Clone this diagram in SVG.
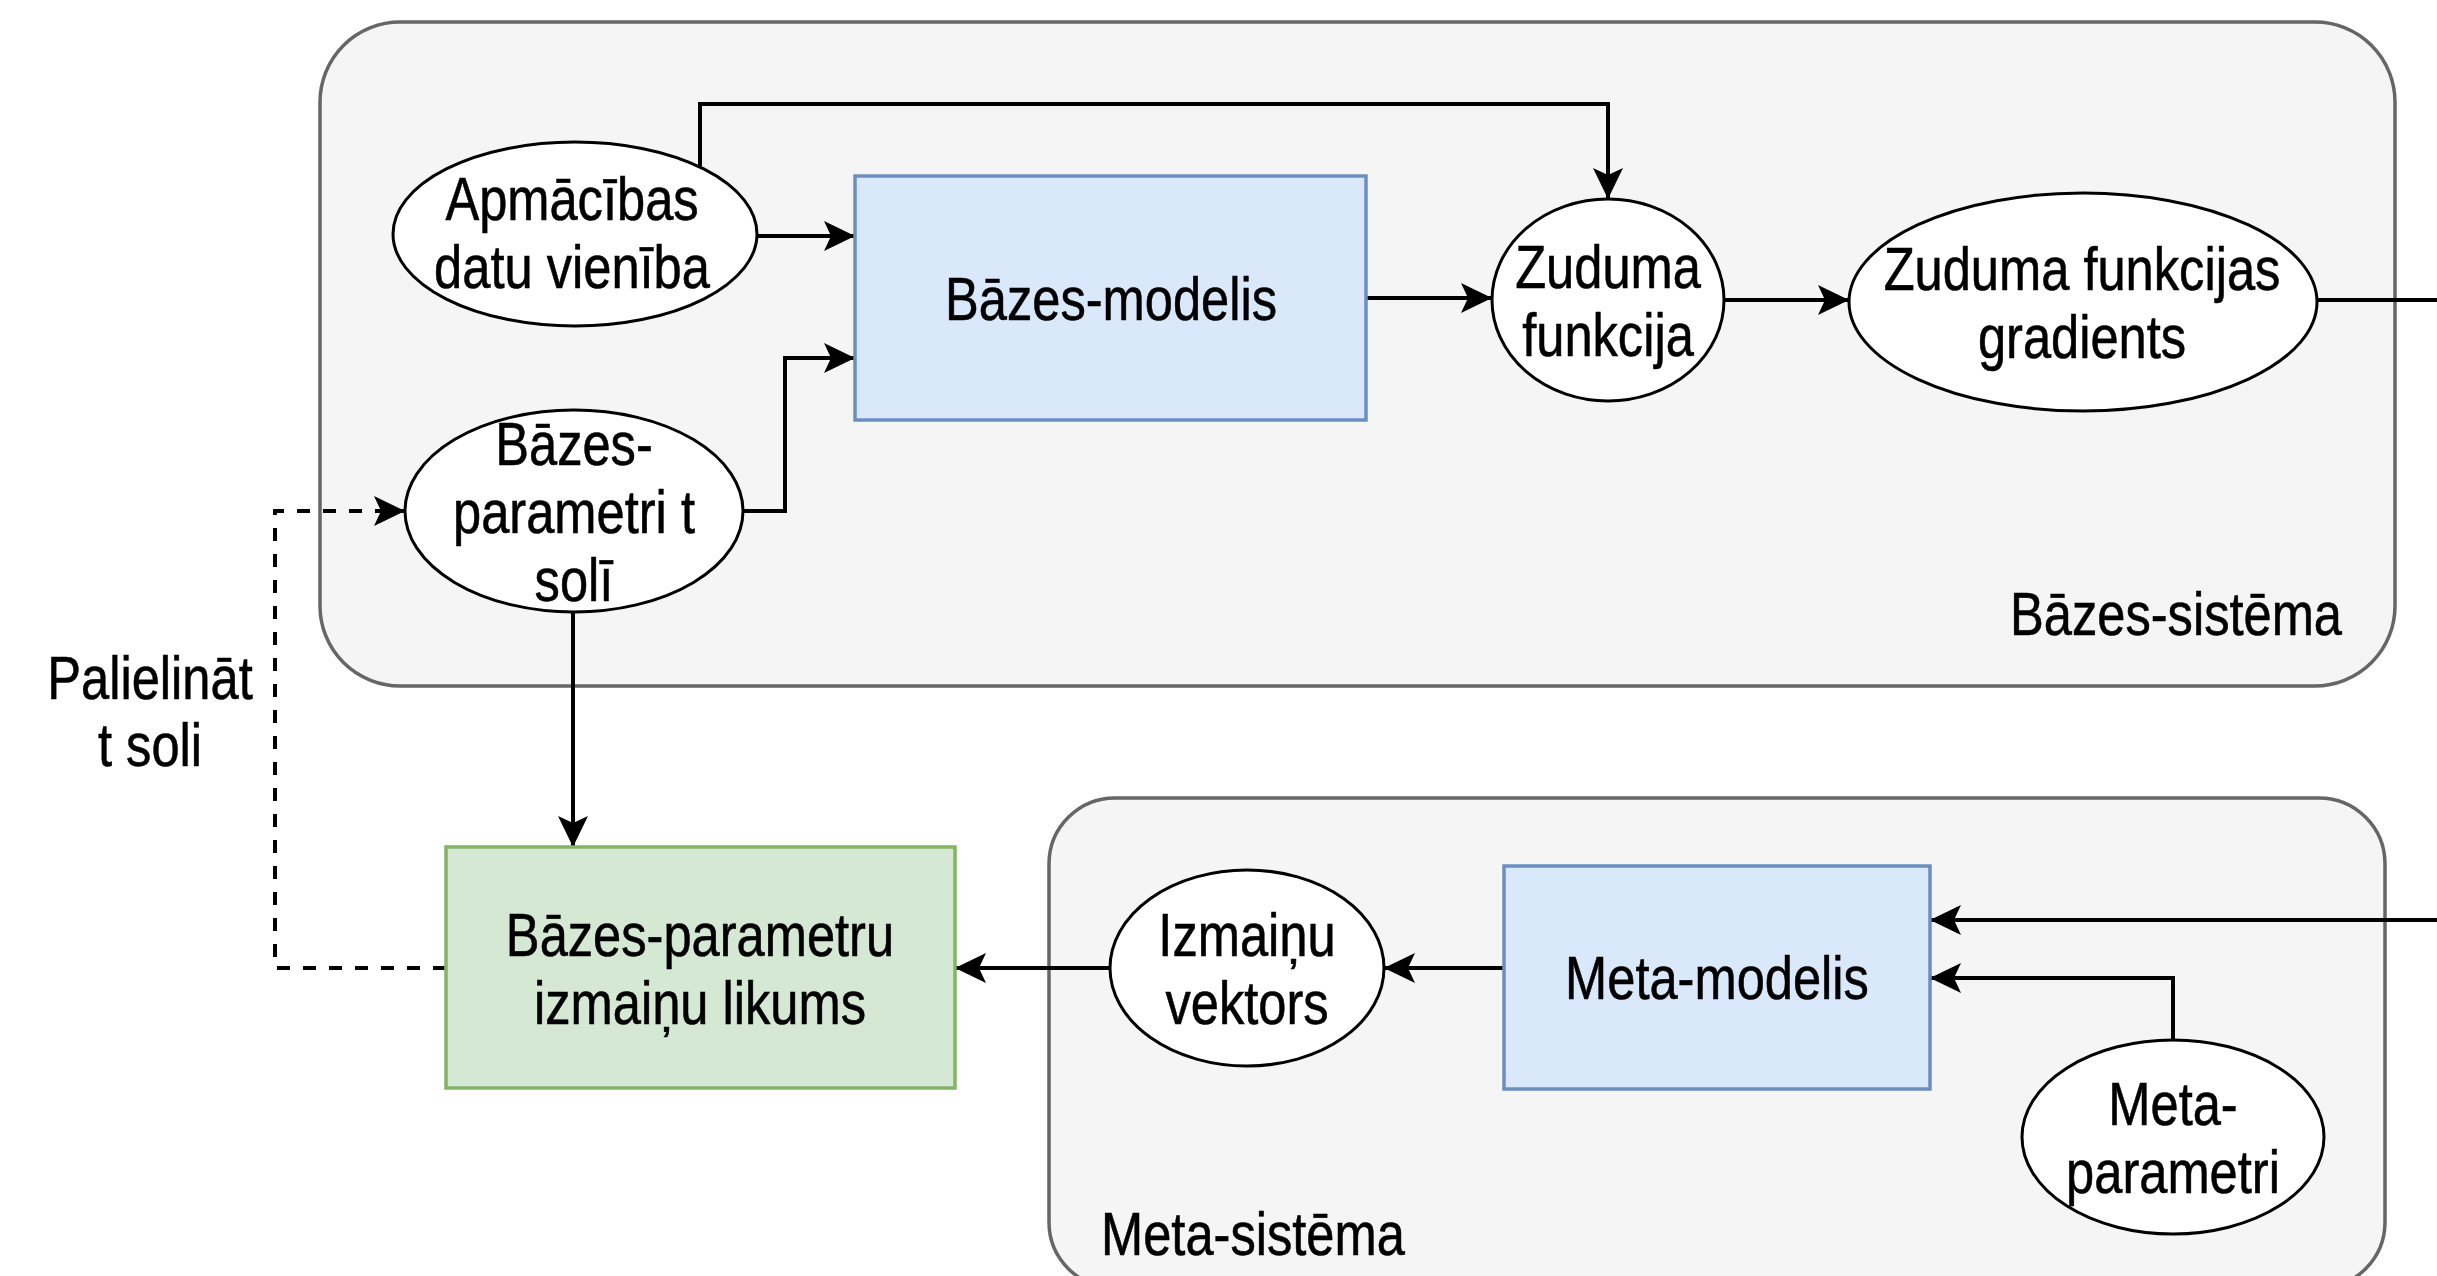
<svg xmlns="http://www.w3.org/2000/svg" width="2437" height="1276" viewBox="0 0 2437 1276">
<defs>
<style>
.container{fill:#f5f5f5;stroke:#666666;stroke-width:3.5}
.ell{fill:#ffffff;stroke:#000000;stroke-width:3}
.blue{fill:#dae8fc;stroke:#6c8ebf;stroke-width:3.5}
.green{fill:#d5e8d4;stroke:#82b366;stroke-width:3.5}
.t{font-family:"Liberation Sans",Arial,sans-serif;font-size:61px;fill:#000000;stroke:#000000;stroke-width:0.6;text-anchor:middle}
.conn{fill:none;stroke:#000000;stroke-width:4}
.dash{stroke-dasharray:13 13}
</style>
<marker id="arr" markerUnits="userSpaceOnUse" viewBox="-34 -17 36 34" refX="0" refY="0" markerWidth="36" markerHeight="34" orient="auto">
<path d="M0,0 L-31,-15 L-24,0 L-31,15 Z" fill="#000000"/>
</marker>
</defs>
<rect width="2437" height="1276" fill="#ffffff"/>

<g id="base-system">
<rect class="container" x="320" y="22" width="2075" height="664" rx="80" ry="80"/>
<text class="t" style="text-anchor:end" transform="translate(2342,635) scale(0.83,1)">Bāzes-sistēma</text>
</g>

<g id="meta-system">
<rect class="container" x="1049" y="798" width="1336" height="490" rx="66" ry="66"/>
<text class="t" style="text-anchor:start" transform="translate(1101,1255) scale(0.83,1)">Meta-sistēma</text>
</g>

<g id="connectors">
<path class="conn" d="M758,236 H855" marker-end="url(#arr)"/>
<path class="conn" d="M743,511 H785 V358 H855" marker-end="url(#arr)"/>
<path class="conn" d="M700,166 V104 H1608 V199" marker-end="url(#arr)"/>
<path class="conn" d="M1366,298 H1492" marker-end="url(#arr)"/>
<path class="conn" d="M1724,300 H1849" marker-end="url(#arr)"/>
<path class="conn" d="M2317,300 H2470 V920 H1930" marker-end="url(#arr)"/>
<path class="conn" d="M2173,1040 V978 H1930" marker-end="url(#arr)"/>
<path class="conn" d="M1504,968 H1384" marker-end="url(#arr)"/>
<path class="conn" d="M1110,968 H955" marker-end="url(#arr)"/>
<path class="conn" d="M573,612 V847" marker-end="url(#arr)"/>
<path class="conn dash" d="M446,968 H275 V511 H405" marker-end="url(#arr)"/>
<text class="t" transform="translate(150,699) scale(0.83,1)"><tspan x="0">Palielināt</tspan><tspan x="0" dy="67">t soli</tspan></text>
</g>

<g id="apmacibas">
<ellipse class="ell" cx="575" cy="234" rx="182" ry="92"/>
<text class="t" transform="translate(572,220) scale(0.83,1)"><tspan x="0">Apmācības</tspan><tspan x="0" dy="68">datu vienība</tspan></text>
</g>

<g id="bazes-modelis">
<rect class="blue" x="855" y="176" width="511" height="244"/>
<text class="t" transform="translate(1111,320) scale(0.83,1)">Bāzes-modelis</text>
</g>

<g id="zuduma-funkcija">
<ellipse class="ell" cx="1608" cy="300" rx="116" ry="101"/>
<text class="t" transform="translate(1608,288) scale(0.83,1)"><tspan x="0">Zuduma</tspan><tspan x="0" dy="68">funkcija</tspan></text>
</g>

<g id="gradients">
<ellipse class="ell" cx="2083" cy="302" rx="234" ry="109"/>
<text class="t" transform="translate(2082,290) scale(0.83,1)"><tspan x="0">Zuduma funkcijas</tspan><tspan x="0" dy="68">gradients</tspan></text>
</g>

<g id="bazes-parametri">
<ellipse class="ell" cx="574" cy="511" rx="169" ry="101"/>
<text class="t" transform="translate(574,465) scale(0.83,1)"><tspan x="0">Bāzes-</tspan><tspan x="0" dy="68">parametri t</tspan><tspan x="0" dy="68">solī</tspan></text>
</g>

<g id="izmainu-likums">
<rect class="green" x="446" y="847" width="509" height="241"/>
<text class="t" transform="translate(700,956) scale(0.83,1)"><tspan x="0">Bāzes-parametru</tspan><tspan x="0" dy="68">izmaiņu likums</tspan></text>
</g>

<g id="izmainu-vektors">
<ellipse class="ell" cx="1247" cy="968" rx="137" ry="98"/>
<text class="t" transform="translate(1247,956) scale(0.83,1)"><tspan x="0">Izmaiņu</tspan><tspan x="0" dy="68">vektors</tspan></text>
</g>

<g id="meta-modelis">
<rect class="blue" x="1504" y="866" width="426" height="223"/>
<text class="t" transform="translate(1717,999) scale(0.83,1)">Meta-modelis</text>
</g>

<g id="meta-parametri">
<ellipse class="ell" cx="2173" cy="1137" rx="151" ry="97"/>
<text class="t" transform="translate(2173,1125) scale(0.83,1)"><tspan x="0">Meta-</tspan><tspan x="0" dy="68">parametri</tspan></text>
</g>
</svg>
